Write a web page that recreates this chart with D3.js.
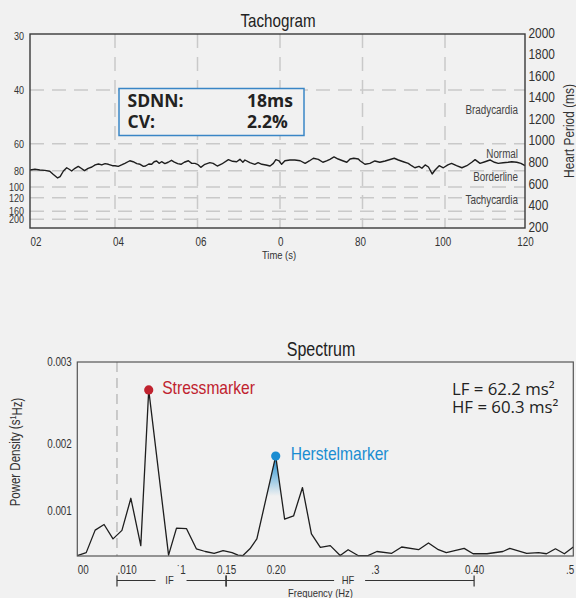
<!DOCTYPE html>
<html>
<head>
<meta charset="utf-8">
<script src="https://cdn.jsdelivr.net/npm/d3@7"></script>
<style>
  body { margin: 0; background: #f1f1f1; }
  svg { display: block; }
  .narrow { font-family: "Liberation Sans", Arial, sans-serif; }
  .open { font-family: "Open Sans", sans-serif; }
</style>
</head>
<body>
<div id="chart"></div>
<script>
/*******************************************************
 *                      DATA                           *
 ******************************************************/

// tachogram: beat times (s) and heart period (ms)
var tachTime = [0, 1.2, 2.4, 3.6, 4.8, 5.6, 6.7, 7.3, 8.1, 8.9, 9.5, 10.1, 10.9, 11.7, 12.4, 13.2,
  14.1, 15.0, 15.8, 16.6, 17.4, 18.2, 19.0, 20.0, 20.6, 21.4, 22.2, 23.0, 24.2, 25.0, 25.9, 26.7,
  27.5, 28.0, 28.8, 29.5, 30.1, 30.7, 31.3, 31.9, 32.7, 33.5, 34.3, 35.0, 35.8, 36.6, 37.4, 38.4,
  39.2, 40.0, 40.6, 41.4, 42.4, 43.6, 44.4, 45.4, 46.5, 48.1, 49.1, 50.1, 50.9, 51.6, 52.1, 53.3,
  54.5, 55.3, 56.2, 57.2, 58.2, 59.0, 59.6, 60.4, 61.0, 61.8, 63.0, 64.2, 65.5, 66.7, 67.7, 68.7,
  69.9, 71.0, 71.9, 72.7, 73.7, 74.7, 75.8, 76.8, 77.6, 78.5, 79.6, 80.0, 81.2, 82.4, 83.6, 84.8,
  86.1, 88.3, 89.3, 90.5, 91.7, 92.5, 93.3, 94.3, 95.0, 95.8, 96.6, 97.5, 98.2, 99.2, 100.2, 101.3,
  102.2, 103.4, 104.7, 105.9, 107.1, 107.9, 109.1, 110.3, 111.5, 112.6, 113.5, 114.7, 115.9, 116.8,
  118.0, 119.0, 120.0];
var tachPeriod = [738, 745, 738, 735, 726, 698, 664, 676, 729, 759, 745, 729, 754, 772, 754, 732,
  754, 766, 785, 794, 785, 797, 791, 778, 778, 772, 785, 800, 824, 815, 797, 791,
  772, 775, 794, 791, 815, 822, 800, 815, 797, 810, 828, 812, 797, 791, 810, 824,
  800, 800, 791, 763, 791, 806, 800, 775, 794, 834, 819, 815, 837, 810, 831, 806,
  791, 806, 791, 785, 775, 800, 834, 822, 791, 824, 831, 831, 824, 800, 822, 847,
  837, 810, 822, 837, 859, 840, 824, 810, 840, 847, 840, 824, 791, 800, 822, 810,
  822, 847, 831, 815, 800, 778, 759, 772, 754, 785, 766, 701, 738, 778, 759, 785,
  800, 778, 759, 778, 810, 834, 800, 815, 831, 810, 800, 806, 810, 815,
  810, 800, 778];

var timeTicks = [0, 20, 40, 60, 80, 100, 120];
var timeLabels = ["02", "04", "06", "0", "80", "100", "120"];
var periodTicks = [200, 400, 600, 800, 1000, 1200, 1400, 1600, 1800, 2000];
var rateTicks = [30, 40, 60, 80, 100, 120, 160, 200];

var zoneNames = ["Bradycardia", "Normal", "Borderline", "Tachycardia"];
var zonePeriods = [1300, 885, 675, 460];

var statNames = ["SDNN:", "CV:"];
var statValues = ["18ms", "2.2%"];

// spectrum: frequency (Hz) and power density
var freq = [0, 0.009, 0.018, 0.027, 0.036, 0.045, 0.054, 0.064, 0.072, 0.092, 0.100, 0.110, 0.120,
  0.129, 0.138, 0.147, 0.156, 0.162, 0.167, 0.174, 0.181, 0.200, 0.209, 0.218, 0.227, 0.236, 0.245,
  0.255, 0.265, 0.273, 0.283, 0.293, 0.302, 0.317, 0.327, 0.344, 0.354, 0.364, 0.372, 0.390, 0.399,
  0.413, 0.429, 0.436, 0.453, 0.465, 0.473, 0.482, 0.491, 0.500];
var power = [0.00001, 0.000075, 0.000575, 0.0007, 0.00038, 0.00057, 0.00119, 0.00023, 0.00266,
  0.00002, 0.00062, 0.00061, 0.00016, 0.0001, 0.00006, 0.00012, 0.000075, 0.00002, 0.00001,
  0.00016, 0.00038, 0.00182, 0.00082, 0.00089, 0.00135, 0.00049, 0.00019, 0.00023, 0.00001,
  0.00014, 0.00001, 0.00001, 0.0001, 0.00006, 0.0002, 0.00014, 0.00029, 0.00014, 0.000075,
  0.00017, 0.00005, 0.00005, 0.0001, 0.00017, 0.00006, 0.000075, 0.00005, 0.00016, 0.00005, 0.0002];

var freqTicks = [0, 0.04, 0.1, 0.15, 0.2, 0.3, 0.4, 0.5];
var freqLabels = ["00", ".010", "\u02D91", "0.15", "0.20", ".3", "0.40", ".5"];
var powerTicks = [0.001, 0.002, 0.003];

var bandNames = ["IF", "HF"];
var bandStart = [0.04, 0.15];
var bandEnd = [0.15, 0.40];

var markerNames = ["Stressmarker", "Herstelmarker"];
var markerColors = ["#c0222e", "#1a8dd2"];

var powerNotes = ["LF = 62.2 ms\u00B2", "HF = 60.3 ms\u00B2"];


/*******************************************************
 *                    SET UP                           *
 ******************************************************/
var width = 576, height = 598;

var svg = d3.select("#chart").append("svg")
            .attr("width", width)
            .attr("height", height);

svg.append("rect")
   .attr("width", width)
   .attr("height", height)
   .attr("fill", "#f1f1f1");

var defs = svg.append("defs");


/*******************************************************
 *                    TACHOGRAM                        *
 ******************************************************/
var tach = {left: 30, right: 525, top: 34, bottom: 228};

var x = d3.scaleLinear()
          .domain([0, 120])
          .range([tach.left, tach.right]);

var yPeriod = d3.scaleLinear()
                .domain([200, 2000])
                .range([tach.bottom, tach.top]);

// heart rate (bpm) sits on the same axis as 60000 / period
function yRate(bpm) { return yPeriod(60000 / bpm) + 2; }

var gridColor = "#c9c9c9";

// horizontal grid
svg.append("g").selectAll("line")
   .data(rateTicks.slice(1))
   .enter().append("line")
   .attr("x1", tach.left).attr("x2", tach.right)
   .attr("y1", yRate).attr("y2", yRate)
   .attr("stroke", gridColor)
   .attr("stroke-width", 1.5)
   .attr("stroke-dasharray", "14,8");

// vertical grid
svg.append("g").selectAll("line")
   .data(timeTicks.filter(function(d) { return d > 0 && d < 120; }))
   .enter().append("line")
   .attr("x1", function(d) { return x(d) + 2.5; })
   .attr("x2", function(d) { return x(d) + 2.5; })
   .attr("y1", tach.top).attr("y2", tach.bottom)
   .attr("stroke", gridColor)
   .attr("stroke-width", 1.5)
   .attr("stroke-dasharray", "14,9");

// stats box
svg.append("rect")
   .attr("x", 119).attr("y", 88.5)
   .attr("width", 185).attr("height", 47)
   .attr("fill", "#f1f1f1")
   .attr("stroke", "#3a86c6")
   .attr("stroke-width", 1.5);

var stats = svg.append("g")
               .attr("class", "open")
               .style("font-size", "17.5px")
               .style("font-weight", 700)
               .attr("fill", "#222");

stats.selectAll(".name")
     .data(statNames)
     .enter().append("text")
     .attr("x", 127.5)
     .attr("y", function(d, i) { return 106.5 + i * 21.5; })
     .text(function(d) { return d; });

stats.selectAll(".val")
     .data(statValues)
     .enter().append("text")
     .attr("x", 247)
     .attr("y", function(d, i) { return 106.5 + i * 21.5; })
     .text(function(d) { return d; });

// zone labels
svg.append("g").attr("class", "narrow")
   .selectAll("text")
   .data(zoneNames)
   .enter().append("text")
   .attr("x", 518)
   .attr("y", function(d, i) { return yPeriod(zonePeriods[i]); })
   .attr("dy", "0.35em")
   .attr("text-anchor", "end")
   .attr("fill", "#444")
   .style("font-size", "12px")
   .text(function(d) { return d; });

// heart period line
var line = d3.line()
             .x(function(d, i) { return x(tachTime[i]); })
             .y(function(d) { return yPeriod(d); });

svg.append("path")
   .datum(tachPeriod)
   .attr("fill", "none")
   .attr("stroke", "#1e1e1e")
   .attr("stroke-width", 1.4)
   .attr("stroke-linejoin", "round")
   .attr("d", line);

// frame
svg.append("rect")
   .attr("x", tach.left).attr("y", tach.top)
   .attr("width", tach.right - tach.left)
   .attr("height", tach.bottom - tach.top)
   .attr("fill", "none")
   .attr("stroke", "#3a3a3a")
   .attr("stroke-width", 1.4);

// x axis
var xAxis = svg.append("g")
               .attr("class", "narrow")
               .attr("transform", "translate(0," + tach.bottom + ")")
               .call(d3.axisBottom(x)
                       .tickValues(timeTicks)
                       .tickFormat(function(d, i) { return timeLabels[i]; })
                       .tickSize(0)
                       .tickPadding(9));
xAxis.select(".domain").remove();
xAxis.selectAll("text")
     .attr("fill", "#333")
     .style("font-size", "12px")
     .attr("text-anchor", function(d) { return d < 80 ? "start" : "middle"; });

svg.append("text")
   .attr("class", "narrow")
   .attr("x", 279).attr("y", 258.5)
   .attr("text-anchor", "middle")
   .attr("fill", "#333")
   .style("font-size", "11.5px")
   .text("Time (s)");

// right axis (heart period)
var yAxis = svg.append("g")
               .attr("class", "narrow")
               .attr("transform", "translate(" + tach.right + ",-1.5)")
               .call(d3.axisRight(yPeriod)
                       .tickValues(periodTicks)
                       .tickFormat(d3.format("d"))
                       .tickSize(0)
                       .tickPadding(3.5));
yAxis.select(".domain").remove();
yAxis.selectAll("text")
     .attr("fill", "#333")
     .style("font-size", "14.5px");

svg.append("text")
   .attr("class", "narrow")
   .attr("transform", "translate(574," + (tach.top + tach.bottom) / 2 + ") rotate(-90)")
   .attr("text-anchor", "middle")
   .attr("fill", "#333")
   .style("font-size", "14.5px")
   .text("Heart Period (ms)");

// left axis (heart rate)
svg.append("g").attr("class", "narrow")
   .selectAll("text")
   .data(rateTicks)
   .enter().append("text")
   .attr("x", 24)
   .attr("y", yRate)
   .attr("dy", "0.35em")
   .attr("text-anchor", "end")
   .attr("fill", "#333")
   .style("font-size", "11px")
   .text(function(d) { return d; });

svg.append("text")
   .attr("class", "narrow")
   .attr("x", 278).attr("y", 27)
   .attr("text-anchor", "middle")
   .attr("fill", "#222")
   .style("font-size", "18.5px")
   .text("Tachogram");


/*******************************************************
 *                     SPECTRUM                        *
 ******************************************************/
var spec = {left: 77.3, right: 573.3, top: 362, bottom: 556};

var xf = d3.scaleLinear()
           .domain([0, 0.5])
           .range([spec.left, spec.right]);

var yp = d3.scaleLinear()
           .domain([0, 0.001, 0.002, 0.003])
           .range([spec.bottom, 511, 444, spec.top]);

// LF boundary
svg.append("line")
   .attr("x1", xf(bandStart[0])).attr("x2", xf(bandStart[0]))
   .attr("y1", spec.top).attr("y2", spec.bottom)
   .attr("stroke", "#bdbdbd")
   .attr("stroke-width", 1.5)
   .attr("stroke-dasharray", "10,6");

// index of the peaks inside LF and HF band
function bandPeak(b) {
  var best = -1;
  freq.forEach(function(f, i) {
    if (f >= bandStart[b] && f <= bandEnd[b] && (best < 0 || power[i] > power[best])) best = i;
  });
  return best;
}
var peaks = [bandPeak(0), bandPeak(1)];

// soft blue glow under the HF peak
var hp = peaks[1];
var grad = defs.append("linearGradient")
               .attr("id", "hfGlow")
               .attr("gradientUnits", "userSpaceOnUse")
               .attr("x1", 0).attr("x2", 0)
               .attr("y1", yp(power[hp])).attr("y2", yp(power[hp]) + 40);
grad.append("stop").attr("offset", "0%").attr("stop-color", markerColors[1]).attr("stop-opacity", 1);
grad.append("stop").attr("offset", "100%").attr("stop-color", markerColors[1]).attr("stop-opacity", 0);

var glow = d3.area()
             .x(function(d) { return xf(freq[d]); })
             .y0(spec.bottom)
             .y1(function(d) { return yp(power[d]); });

svg.append("path")
   .datum([hp - 1, hp, hp + 1])
   .attr("fill", "url(#hfGlow)")
   .attr("d", glow);

var specLine = d3.line()
                 .x(function(d, i) { return xf(freq[i]); })
                 .y(function(d) { return yp(d); });

svg.append("path")
   .datum(power)
   .attr("fill", "none")
   .attr("stroke", "#1e1e1e")
   .attr("stroke-width", 1.3)
   .attr("stroke-linejoin", "round")
   .attr("d", specLine);

// markers
var marks = svg.append("g").selectAll("g")
               .data(peaks)
               .enter().append("g")
               .attr("transform", function(d) {
                 return "translate(" + xf(freq[d]) + "," + yp(power[d]) + ")";
               });

marks.append("circle")
     .attr("r", 4.6)
     .attr("fill", function(d, i) { return markerColors[i]; });

marks.append("text")
     .attr("class", "narrow")
     .attr("x", function(d, i) { return i == 0 ? 13.5 : 15; })
     .attr("y", 4)
     .attr("fill", function(d, i) { return markerColors[i]; })
     .style("font-size", "19px")
     .text(function(d, i) { return markerNames[i]; });

// frame
svg.append("rect")
   .attr("x", spec.left).attr("y", spec.top)
   .attr("width", spec.right - spec.left)
   .attr("height", spec.bottom - spec.top)
   .attr("fill", "none")
   .attr("stroke", "#555")
   .attr("stroke-width", 1.2);

// LF / HF notes
svg.append("g").attr("class", "open")
   .selectAll("text")
   .data(powerNotes)
   .enter().append("text")
   .attr("x", 452)
   .attr("y", function(d, i) { return 395 + i * 18.3; })
   .attr("fill", "#222")
   .style("font-size", "16.8px")
   .text(function(d) { return d; });

// axes
var fAxis = svg.append("g")
               .attr("class", "narrow")
               .attr("transform", "translate(0," + spec.bottom + ")")
               .call(d3.axisBottom(xf)
                       .tickValues(freqTicks)
                       .tickFormat(function(d, i) { return freqLabels[i]; })
                       .tickSize(0)
                       .tickPadding(9.5));
fAxis.select(".domain").remove();
fAxis.selectAll("text")
     .attr("fill", "#333")
     .style("font-size", "12px")
     .attr("dx", function(d) { return d == 0.5 ? 0.5 : 0; })
     .attr("text-anchor", function(d) {
       return d < 0.15 ? "start" : d == 0.5 ? "end" : "middle";
     });

var pAxis = svg.append("g")
               .attr("class", "narrow")
               .attr("transform", "translate(" + spec.left + ",0)")
               .call(d3.axisLeft(yp)
                       .tickValues(powerTicks)
                       .tickFormat(d3.format(".3f"))
                       .tickSize(0)
                       .tickPadding(5.5));
pAxis.select(".domain").remove();
pAxis.selectAll("text")
     .attr("fill", "#333")
     .style("font-size", "12px");

var pTitle = svg.append("text")
                .attr("class", "narrow")
                .attr("transform", "translate(20,452) rotate(-90)")
                .attr("text-anchor", "middle")
                .attr("fill", "#333")
                .style("font-size", "14px");
pTitle.append("tspan").text("Power Density (s");
pTitle.append("tspan").attr("dy", "-0.4em").style("font-size", "9px").text("1");
pTitle.append("tspan").attr("dy", "0.4em").text("Hz)");

// band brackets
var bandY = 580.5;
var bands = svg.append("g")
               .selectAll("g")
               .data(bandNames)
               .enter().append("g");

bands.each(function(name, i) {
  var g = d3.select(this);
  var a = xf(bandStart[i]), b = xf(bandEnd[i]), mid = (a + b) / 2;
  [[a, mid - 16], [mid + 15, b]].forEach(function(seg) {
    g.append("line")
     .attr("x1", seg[0]).attr("x2", seg[1])
     .attr("y1", bandY).attr("y2", bandY)
     .attr("stroke", "#333").attr("stroke-width", 1.2);
  });
  [a, b].forEach(function(px) {
    g.append("line")
     .attr("x1", px).attr("x2", px)
     .attr("y1", bandY - 5).attr("y2", bandY + 6)
     .attr("stroke", "#333").attr("stroke-width", 1.2);
  });
  g.append("text")
   .attr("class", "narrow")
   .attr("x", mid - 2).attr("y", bandY + 3.5)
   .attr("text-anchor", "middle")
   .attr("fill", "#333")
   .style("font-size", "11.5px")
   .text(name);
});

svg.append("text")
   .attr("class", "narrow")
   .attr("x", 320.5).attr("y", 597)
   .attr("text-anchor", "middle")
   .attr("fill", "#333")
   .style("font-size", "11.5px")
   .text("Frequency (Hz)");

svg.append("text")
   .attr("class", "narrow")
   .attr("x", 321).attr("y", 356)
   .attr("text-anchor", "middle")
   .attr("fill", "#222")
   .style("font-size", "19.5px")
   .text("Spectrum");


/*******************************************************
 *          CONDENSE THE NARROW LABELS                 *
 ******************************************************/
// no condensed face is installed, so squeeze the glyphs a bit
svg.selectAll("text.narrow, .narrow text").each(function() {
  var w = this.getComputedTextLength();
  d3.select(this)
    .attr("textLength", w * 0.82)
    .attr("lengthAdjust", "spacingAndGlyphs");
});
</script>
</body>
</html>
